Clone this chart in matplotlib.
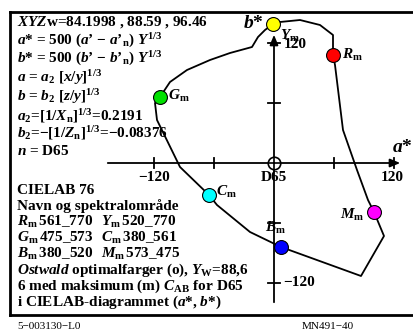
import matplotlib
matplotlib.use('Agg')
import matplotlib.pyplot as plt
import numpy as np

plt.rcParams['font.family'] = ['Liberation Serif', 'DejaVu Serif']
plt.rcParams['font.weight'] = 'bold'
plt.rcParams['mathtext.fontset'] = 'custom'
plt.rcParams['mathtext.rm'] = 'Liberation Serif:bold'
plt.rcParams['mathtext.bf'] = 'Liberation Serif:bold'
plt.rcParams['mathtext.it'] = 'Liberation Serif:italic:bold'

# boundary of the optimal colour area (a*, b*)
bound_a = [-1, 6, 26, 46, 59, 59, 61, 69, 76, 83, 94, 100, 110, 87, 7,
           -24, -57, -65, -94, -117, -119, -114, -104, -87, -64, -44, -22,
           -16, -9, -1]
bound_b = [139, 141, 143, 138, 128, 108, 98, 33, 13, -7, -37, -49, -73, -113, -84,
           -69, -42, -32, -4, 43, 60, 66, 81, 93, 103, 110, 116,
           126, 133, 139]

# maximum chroma colours
names = ['R', 'Y', 'G', 'C', 'B', 'M']
pt_a = [59, -1, -114, -65, 7, 100]
pt_b = [108, 139, 66, -32, -84, -49]
pt_col = ['#ff0000', '#ffff00', '#00e000', '#00ffff', '#0000ff', '#ff00ff']

ticks = [-120, -60, 60, 120]

W, H = 413, 332
FS = 11
fig = plt.figure(figsize=(W / 100, H / 100), dpi=100)
ax = fig.add_axes([0, 0, 1, 1])
ax.set_xlim(-274, W - 274)
ax.set_ylim(163 - H, 163)
ax.axis('off')


def ftxt(x, y, s, **kw):
    # place text in pixel coordinates of the picture
    kw.setdefault('fontsize', FS)
    kw.setdefault('va', 'baseline')
    fig.text(x / W, 1 - y / H, s, **kw)


# frame
fl = dict(color='black', lw=2, transform=fig.transFigure)
fig.add_artist(plt.Line2D([10 / W, 1], [1 - 12 / H] * 2, **fl))
fig.add_artist(plt.Line2D([10 / W] * 2, [1 - 12 / H, 1 - 315 / H], **fl))
fig.add_artist(plt.Line2D([10 / W, 1], [1 - 315 / H] * 2, **fl))

# axes with arrows
arr = dict(arrowstyle='-|>,head_length=0.6,head_width=0.25', color='black', lw=1.3)
ax.annotate('', xy=(129, 0), xytext=(-169, 0), arrowprops=arr)
ax.annotate('', xy=(0, 131), xytext=(0, -142), arrowprops=arr)
for t in ticks:
    ax.plot([t, t], [-5, 5], color='black', lw=1.3)
    ax.plot([-6, 6], [t, t], color='black', lw=1.3)

# boundary
ax.plot(bound_a, bound_b, color='black', lw=1.3, zorder=3)

# D65
ax.plot(0, 0, marker='o', ms=9, mfc='white', mec='black', mew=1.2, zorder=4)
ax.plot(0, 0, marker='+', ms=9, color='black', mew=1.2, zorder=5)

for a, b, c in zip(pt_a, pt_b, pt_col):
    ax.plot(a, b, marker='o', ms=10, mfc=c, mec='black', mew=0.8, zorder=6)

# point labels
lbl = {'R': (68, 108, 'left'), 'Y': (6, 127, 'left'), 'G': (-106, 67, 'left'),
       'C': (-58, -29, 'left'), 'B': (-9, -65, 'left'), 'M': (90, -52, 'right')}
for n in names:
    x, y, ha = lbl[n]
    ax.text(x, y, r'$%s_\mathrm{m}$' % n, fontsize=FS, ha=ha, va='center', zorder=7)

# axis labels
ax.text(10, 119, '120', fontsize=FS, va='center', ha='left')
ax.text(9, -120, '\u2212120', fontsize=FS, va='center', ha='left')
ax.text(-120, -18, '\u2212120', fontsize=FS, ha='center', va='baseline')
ax.text(118, -18, '120', fontsize=FS, ha='center', va='baseline')
ax.text(0, -18, 'D65', fontsize=FS, ha='center', va='baseline')
ax.text(-10, 139, r'$b$*', fontsize=14, ha='right', va='center')
ax.text(139, 16, r'$a$*', fontsize=14, ha='right', va='center')

# formula block
top_lines = [
    r'$XYZ$w=84.1998 , 88.59 , 96.46',
    r'$a$* = 500 ($a$’ $-$ $a$’$_\mathrm{n}$) $Y^{1/3}$',
    r'$b$* = 500 ($b$’ $-$ $b$’$_\mathrm{n}$) $Y^{1/3}$',
    r'$a$ = $a_2$ [$x/y$]$^{1/3}$',
    r'$b$ = $b_2$ [$z/y$]$^{1/3}$',
    r'$a_2$=[1/$X_\mathrm{n}$]$^{1/3}$=0.2191',
    r'$b_2$=$-$[1/$Z_\mathrm{n}$]$^{1/3}$=$-$0.08376',
    r'$n$ = D65',
]
top_y = [26, 45, 63, 82, 101, 120, 137, 155]
for s, y in zip(top_lines, top_y):
    ftxt(17, y, s)

ftxt(17, 194, 'CIELAB 76')
ftxt(17, 210, 'Navn og spektralområde')
col1 = [r'$R_\mathrm{m}\,\mathit{561\_770}$', r'$G_\mathrm{m}\,\mathit{475\_573}$',
        r'$B_\mathrm{m}\,\mathit{380\_520}$']
col2 = [r'$Y_\mathrm{m}\,\mathit{520\_770}$', r'$C_\mathrm{m}\,\mathit{380\_561}$',
        r'$M_\mathrm{m}\,\mathit{573\_475}$']
for i, (s1, s2) in enumerate(zip(col1, col2)):
    ftxt(17, 226 + 16 * i, s1)
    ftxt(101, 226 + 16 * i, s2)
ftxt(17, 274, r'$\mathit{Ostwald}$ optimalfarger (o), $Y_\mathrm{W}$=88,6')
ftxt(17, 290, r'6 med maksimum (m) $C_\mathrm{AB}$ for D65')
ftxt(17, 306, r'i CIELAB-diagrammet $\mathit{(a}$*, $\mathit{b}$*$\mathit{)}$')

ftxt(17, 329, '5\u2212003130\u2212L0', fontsize=8, fontweight='normal')
ftxt(328, 329, 'MN491\u221240', fontsize=8, fontweight='normal', ha='center')

fig.savefig('out.png', dpi=100)
